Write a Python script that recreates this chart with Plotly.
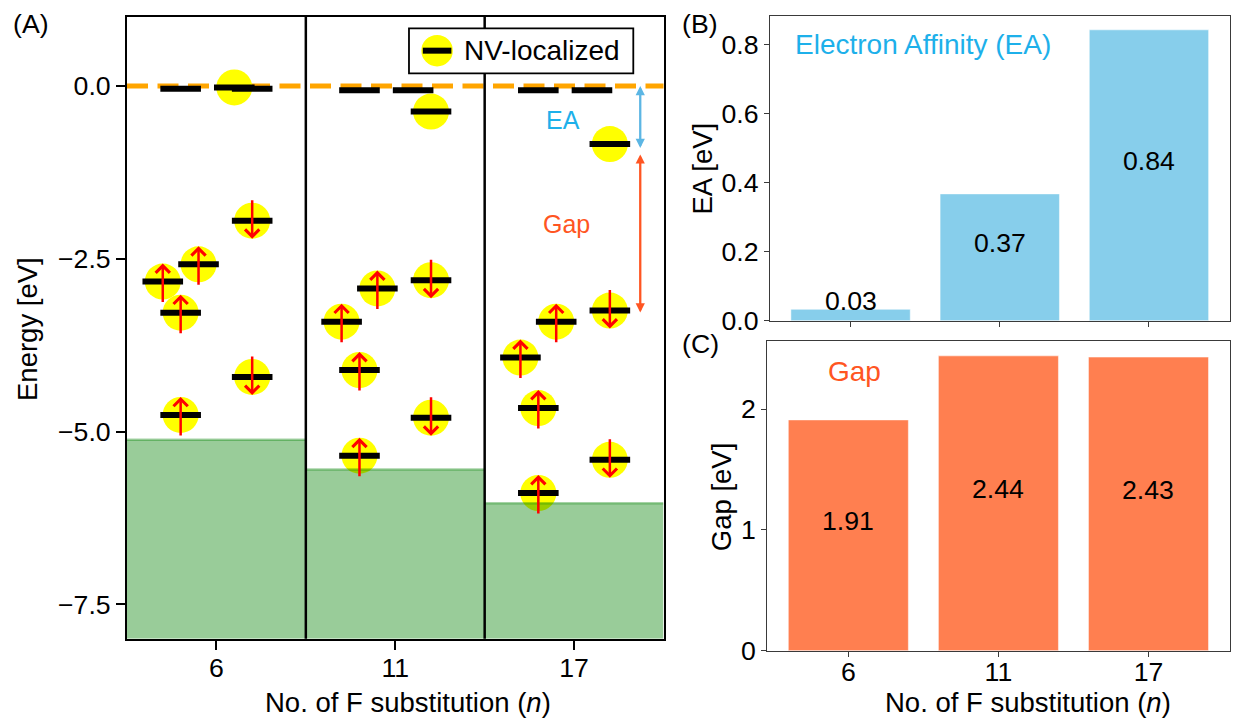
import plotly.graph_objects as go

# The page body adds an 8 px margin, so the figure is made 16 px smaller than the
# window and every screen position below is converted with an 8 px offset.
W, H = 1223, 711
OFF = 8
FONT = "Liberation Sans, Arial, sans-serif"

# ---------------- data ----------------
n_labels = ["6", "11", "17"]

# Panel A: defect levels. group -> index into n_labels, offset -> slot inside the group
level_group = [0, 0, 0, 0, 0, 0, 0, 0, 0,
               1, 1, 1, 1, 1, 1, 1, 1, 1,
               2, 2, 2, 2, 2, 2, 2, 2, 2]
level_offset = [-0.2, 0.1, 0.2, 0.2, -0.1, -0.3, -0.2, 0.2, -0.2,
                -0.2, 0.1, 0.2, 0.2, -0.1, -0.3, -0.2, 0.2, -0.2,
                -0.2, 0.1, 0.2, 0.2, -0.1, -0.3, -0.2, 0.2, -0.2]
level_energy = [-0.04, -0.02, -0.04, -1.95, -2.58, -2.83, -3.28, -4.21, -4.76,
                -0.06, -0.06, -0.37, -2.81, -2.93, -3.41, -4.11, -4.80, -5.35,
                -0.06, -0.06, -0.84, -3.25, -3.41, -3.93, -4.66, -5.41, -5.89]
level_nv = [False, True, False, True, True, True, True, True, True,
            False, False, True, True, True, True, True, True, True,
            False, False, True, True, True, True, True, True, True]
level_spin = ["", "", "", "down", "up", "up", "up", "down", "up",
              "", "", "", "down", "up", "up", "up", "down", "up",
              "", "", "", "down", "up", "up", "up", "down", "up"]
vbm = [-5.12, -5.55, -6.04]

# Panels B and C
ea = [0.033, 0.368, 0.844]
gap = [1.91, 2.44, 2.43]

energy_ticks = [-7.5, -5.0, -2.5, 0.0]
energy_ticktext = ["\u22127.5", "\u22125.0", "\u22122.5", "0.0"]


# ---------------- layout helpers ----------------
def px_x(p):
    return min(1.0, max(0.0, (p - OFF) / W))


def px_y(p):
    return min(1.0, max(0.0, 1 - (p - OFF) / H))


A_X = [px_x(127), px_x(663.5)]
A_Y = [px_y(638.8), px_y(16.9)]
B_X = [px_x(770), min(px_x(1231.3), 0.9988)]
B_Y = [px_y(320.7), px_y(15.7)]
C_X = [px_x(767.3), min(px_x(1235.3), 0.9988)]
C_Y = [px_y(650.7), px_y(341)]

E_RANGE = [-8.0, 1.0]
CAT_RANGE = [-0.54, 2.54]

EA_COLOR_TXT = "#1DB0EA"
EA_COLOR_ARROW = "#5CB6E4"
GAP_COLOR = "#FF5522"

fig = go.Figure()

xs = [g + o for g, o in zip(level_group, level_offset)]

# NV-localized circles
fig.add_trace(go.Scatter(
    x=[x for x, nv in zip(xs, level_nv) if nv],
    y=[e for e, nv in zip(level_energy, level_nv) if nv],
    mode="markers",
    marker=dict(size=36, color="#FFFF00", line=dict(width=0)),
    xaxis="x", yaxis="y", showlegend=False, hoverinfo="skip"))

# valence band (green) regions
for g, v in enumerate(vbm):
    fig.add_trace(go.Scatter(
        x=[g - 0.5, g + 0.5, g + 0.5, g - 0.5],
        y=[E_RANGE[0], E_RANGE[0], v, v],
        fill="toself", fillcolor="rgba(0,128,0,0.4)", mode="none",
        xaxis="x", yaxis="y", showlegend=False, hoverinfo="skip"))
    fig.add_trace(go.Scatter(
        x=[g - 0.5, g + 0.5], y=[v, v], mode="lines",
        line=dict(color="rgba(0,128,0,0.35)", width=2.5),
        xaxis="x", yaxis="y", showlegend=False, hoverinfo="skip"))

# level bars
fig.add_trace(go.Scatter(
    x=xs, y=level_energy, mode="markers",
    marker=dict(symbol="line-ew", size=29, color="black",
                line=dict(width=6, color="black")),
    xaxis="x", yaxis="y", showlegend=False, hoverinfo="skip"))

# Panel B bars
cats = list(range(len(n_labels)))
fig.add_trace(go.Bar(
    x=cats, y=ea, width=0.8,
    marker=dict(color="#87CEEB", line=dict(width=1, color="rgba(255,255,255,0.5)")),
    xaxis="x2", yaxis="y2", showlegend=False, hoverinfo="skip"))

# Panel C bars
fig.add_trace(go.Bar(
    x=cats, y=gap, width=0.8,
    marker=dict(color="#FF7F50", line=dict(width=1, color="rgba(255,255,255,0.5)")),
    xaxis="x3", yaxis="y3", showlegend=False, hoverinfo="skip"))

annotations = []
# spin arrows
for x, e, s in zip(xs, level_energy, level_spin):
    if s == "up":
        annotations.append(dict(x=x, y=e, xref="x", yref="y", text="", showarrow=True,
                                yshift=18, ax=0, ay=40, arrowhead=4, arrowsize=1.1,
                                arrowwidth=2.5, arrowcolor="#FF0000"))
    elif s == "down":
        annotations.append(dict(x=x, y=e, xref="x", yref="y", text="", showarrow=True,
                                yshift=-18, ax=0, ay=-40, arrowhead=4, arrowsize=1.1,
                                arrowwidth=2.5, arrowcolor="#FF0000"))

# EA and Gap double arrows in panel A
ARROW_X = 2.37
EA_ARROW = [0.0, -0.92]
GAP_ARROW = [-0.99, -3.30]
annotations.append(dict(x=ARROW_X, y=EA_ARROW[0], ax=ARROW_X, ay=EA_ARROW[1],
                        xref="x", yref="y", axref="x", ayref="y", text="",
                        showarrow=True, arrowside="end+start", arrowhead=2,
                        startarrowhead=2, arrowsize=0.8, startarrowsize=0.8,
                        arrowwidth=2.3, arrowcolor=EA_COLOR_ARROW))
annotations.append(dict(x=ARROW_X, y=GAP_ARROW[0], ax=ARROW_X, ay=GAP_ARROW[1],
                        xref="x", yref="y", axref="x", ayref="y", text="",
                        showarrow=True, arrowside="end+start", arrowhead=2,
                        startarrowhead=2, arrowsize=0.8, startarrowsize=0.8,
                        arrowwidth=2.3, arrowcolor=GAP_COLOR))
annotations.append(dict(x=1.94, y=-0.49, xref="x", yref="y", text="EA", showarrow=False,
                        font=dict(family=FONT, size=25, color=EA_COLOR_TXT)))
annotations.append(dict(x=1.96, y=-1.99, xref="x", yref="y", text="Gap", showarrow=False,
                        font=dict(family=FONT, size=25, color=GAP_COLOR)))

# bar value labels
for i, v in enumerate(ea):
    annotations.append(dict(x=i, y=v / 2, xref="x2", yref="y2", text=f"{v:.2f}",
                            showarrow=False, yshift=14,
                            font=dict(family=FONT, size=26.67, color="black")))
for i, v in enumerate(gap):
    annotations.append(dict(x=i, y=v / 2, xref="x3", yref="y3", text=f"{v:.2f}",
                            showarrow=False, yshift=14,
                            font=dict(family=FONT, size=26.67, color="black")))

annotations.append(dict(x=0.05, y=0.904, xref="x2 domain", yref="y2 domain",
                        text="Electron Affinity (EA)", showarrow=False,
                        xanchor="left", yanchor="middle",
                        font=dict(family=FONT, size=28, color=EA_COLOR_TXT)))
annotations.append(dict(x=0.127, y=0.90, xref="x3 domain", yref="y3 domain",
                        text="Gap", showarrow=False, xanchor="left", yanchor="middle",
                        font=dict(family=FONT, size=28, color=GAP_COLOR)))

# panel letters (kept fully inside the figure)
for txt, lx, ly, anchor in [("(A)", 12, 8, "top"), ("(B)", 681, 8, "top"),
                            ("(C)", 681, 344, "middle")]:
    annotations.append(dict(x=px_x(lx), y=px_y(ly), xref="paper", yref="paper", text=txt,
                            showarrow=False, xanchor="left", yanchor=anchor, borderpad=0,
                            font=dict(family=FONT, size=26.67, color="black")))

# axis titles
TITLE_FONT = dict(family=FONT, size=27.5, color="black")
xtitle = "No. of F substitution (<i>n</i>)"
for cx in (407.5, 1028):
    annotations.append(dict(x=px_x(cx), y=0, xref="paper", yref="paper", text=xtitle,
                            showarrow=False, xanchor="center", yanchor="bottom", borderpad=0,
                            font=TITLE_FONT))
annotations.append(dict(x=px_x(27), y=px_y(329), xref="paper", yref="paper", text="Energy [eV]",
                        showarrow=False, textangle=-90, xanchor="center", yanchor="middle",
                        font=TITLE_FONT))
annotations.append(dict(x=px_x(702), y=px_y(168.5), xref="paper", yref="paper", text="EA [eV]",
                        showarrow=False, textangle=-90, xanchor="center", yanchor="middle",
                        font=TITLE_FONT))
annotations.append(dict(x=px_x(721.7), y=px_y(496.5), xref="paper", yref="paper", text="Gap [eV]",
                        showarrow=False, textangle=-90, xanchor="center", yanchor="middle",
                        font=TITLE_FONT))

# legend (manual, panel A)
LEG_X = [0.5256, 0.9437]
LEG_Y = [0.9093, 0.9817]
LEG_GLYPH = (0.578, 0.9457)
annotations.append(dict(x=0.6239, y=LEG_GLYPH[1], xref="x domain", yref="y domain",
                        text="NV-localized", showarrow=False, xanchor="left", yanchor="middle",
                        font=dict(family=FONT, size=28, color="black")))

shapes = []
# dashed reference line at 0 eV
shapes.append(dict(type="line", xref="x domain", yref="y", x0=0, x1=1, y0=0, y1=0,
                   line=dict(color="#FFA500", width=5, dash="21px,9.5px"), layer="below"))
# group dividers
for g in range(len(n_labels) - 1):
    shapes.append(dict(type="line", xref="x", yref="y domain", x0=g + 0.5, x1=g + 0.5,
                       y0=0, y1=1, line=dict(color="black", width=2.5), layer="above"))
shapes.append(dict(type="rect", xref="x domain", yref="y domain", x0=LEG_X[0], x1=LEG_X[1],
                   y0=LEG_Y[0], y1=LEG_Y[1], line=dict(color="black", width=1.8),
                   fillcolor="white", layer="above"))
shapes.append(dict(type="circle", xref="x domain", yref="y domain",
                   xsizemode="pixel", ysizemode="pixel",
                   xanchor=LEG_GLYPH[0], yanchor=LEG_GLYPH[1],
                   x0=-15.75, x1=15.75, y0=-15.75, y1=15.75,
                   fillcolor="#FFFF00", line=dict(width=0), layer="above"))
shapes.append(dict(type="line", xref="x domain", yref="y domain",
                   xsizemode="pixel", ysizemode="pixel",
                   xanchor=LEG_GLYPH[0], yanchor=LEG_GLYPH[1],
                   x0=-14.3, x1=14.3, y0=0, y1=0,
                   line=dict(color="black", width=6), layer="above"))

TICK_FONT = dict(family=FONT, size=26.67, color="black")
axA = dict(showline=True, linecolor="black", linewidth=2, mirror=True, ticks="outside",
           ticklen=9, tickwidth=2, tickcolor="black", showgrid=False, zeroline=False,
           tickfont=TICK_FONT, automargin=False)
axBC = dict(showline=True, linecolor="#3A3A3A", linewidth=1.3, mirror=True, ticks="outside",
            ticklen=5, tickwidth=1.3, tickcolor="#3A3A3A", showgrid=False, zeroline=False,
            tickfont=TICK_FONT, automargin=False)

fig.update_layout(
    width=W, height=H,
    margin=dict(l=0, r=0, t=0, b=0, pad=0),
    paper_bgcolor="white", plot_bgcolor="white",
    showlegend=False,
    font=dict(family=FONT, color="black"),
    xaxis=dict(domain=A_X, range=[-0.5, 2.5], anchor="y", tickvals=cats, ticktext=n_labels,
               ticklabelstandoff=-5, **axA),
    yaxis=dict(domain=A_Y, range=E_RANGE, anchor="x", tickvals=energy_ticks,
               ticktext=energy_ticktext, **axA),
    xaxis2=dict(domain=B_X, range=CAT_RANGE, anchor="y2", tickvals=cats, showticklabels=False, **axBC),
    yaxis2=dict(domain=B_Y, range=[0, 0.885], anchor="x2", tickvals=[0, 0.2, 0.4, 0.6, 0.8],
                tickformat=".1f", **axBC),
    xaxis3=dict(domain=C_X, range=CAT_RANGE, anchor="y3", tickvals=cats, ticktext=n_labels,
                ticklabelstandoff=-8, **axBC),
    yaxis3=dict(domain=C_Y, range=[0, 2.563], anchor="x3", tickvals=[0, 1, 2], **axBC),
    annotations=annotations,
    shapes=shapes,
)

fig.write_html("out.html")
